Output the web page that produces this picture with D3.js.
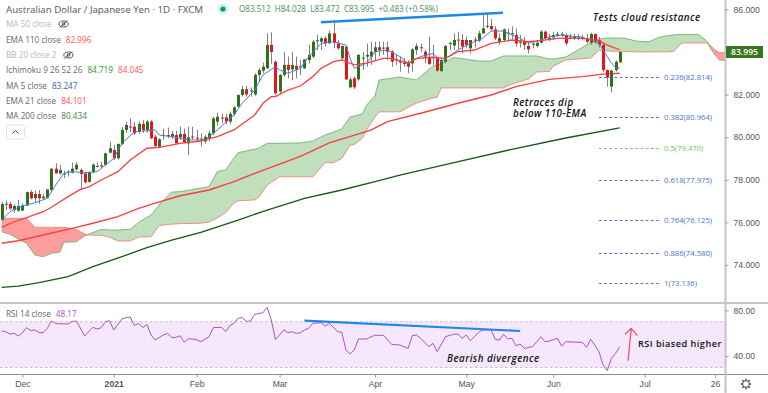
<!DOCTYPE html>
<html>
<head>
<meta charset="utf-8">
<script src="https://d3js.org/d3.v7.min.js"></script>
<style>
    html, body { margin: 0; padding: 0; background: #fff; }
    svg { display: block; font-family: "Open Sans", sans-serif; }
</style>
</head>
<body>
<div id="chart"></div>
<script>

// daily bars: open, high, low, close
const candles = [
    [76.11,76.97,76.08,76.86],[76.86,77.02,76.58,76.88],[76.86,76.97,76.58,76.65],[76.58,76.86,76.46,76.77],[76.55,77.05,76.50,76.77],
    [76.55,76.90,76.55,76.80],[76.80,77.44,76.77,77.42],[77.42,77.52,77.08,77.13],[77.13,77.49,76.90,77.33],[77.33,77.52,76.86,77.13],
    [77.13,77.36,77.05,77.21],[77.15,77.55,77.13,77.55],[77.52,78.54,77.44,78.52],[78.52,78.77,78.30,78.30],[78.30,78.69,78.22,78.46],
    [78.30,78.43,78.07,78.30],[78.34,78.46,78.15,78.38],[78.34,78.80,78.30,78.52],[78.49,78.83,78.43,78.71],[78.46,78.54,77.52,78.27],
    [78.30,78.38,77.83,77.88],[77.90,78.38,77.87,78.36],[78.36,78.77,78.30,78.71],[78.65,78.80,78.58,78.65],[78.68,78.85,78.54,78.63],
    [78.71,79.27,78.68,79.24],[79.27,79.79,79.24,79.48],[79.40,79.63,78.93,79.01],[79.01,79.71,78.96,79.68],[79.68,80.49,79.63,80.34],
    [80.34,80.73,80.20,80.57],[80.50,80.88,80.25,80.49],[80.49,80.70,80.10,80.18],[80.25,80.74,80.15,80.62],[80.62,80.80,80.20,80.34],
    [80.34,80.80,80.20,80.73],[80.73,80.80,79.90,79.95],[80.02,80.10,79.55,79.58],[79.55,79.95,79.50,79.90],[80.05,80.40,79.87,80.10],
    [80.10,80.45,79.95,80.08],[80.02,80.30,79.90,80.15],[80.10,80.30,79.70,79.71],[79.99,80.50,79.87,80.15],[80.15,80.40,79.72,79.74],
    [79.71,80.49,79.16,79.99],[80.03,80.49,79.87,80.00],[79.98,80.34,79.80,79.95],[79.90,80.18,79.55,79.93],[79.80,80.10,79.70,80.02],
    [79.95,80.30,79.80,80.18],[80.18,80.95,80.10,80.88],[80.73,81.15,80.55,80.96],[80.92,81.10,80.65,80.90],[80.93,81.10,80.60,80.73],
    [80.73,81.20,80.60,81.10],[81.08,81.45,81.00,81.40],[81.43,82.00,81.40,81.98],[81.98,82.40,81.90,82.25],[82.25,82.40,81.90,82.01],
    [82.15,82.34,81.90,82.20],[82.00,83.00,81.95,82.92],[82.92,83.25,82.60,83.15],[83.12,83.50,83.00,83.31],[83.23,84.87,83.20,84.33],
    [84.33,84.92,83.45,84.00],[83.54,83.60,81.98,82.06],[82.14,82.96,82.06,82.92],[82.92,84.00,82.84,83.39],[83.39,83.78,82.76,83.15],
    [83.18,84.00,82.68,83.39],[83.34,83.78,82.76,83.18],[83.30,83.62,82.92,83.33],[83.23,83.66,83.20,83.65],[83.62,84.33,83.46,83.86],
    [83.78,84.56,83.70,84.48],[84.50,84.80,84.09,84.55],[84.48,84.72,84.09,84.64],[84.64,84.75,84.25,84.40],[84.40,85.00,84.40,84.87],
    [84.87,85.42,84.17,84.43],[84.40,84.56,84.09,84.17],[83.70,84.30,83.60,84.28],[84.25,84.25,82.68,82.71],[82.34,82.80,82.28,82.71],
    [82.76,82.85,82.25,82.34],[82.71,83.90,82.65,83.86],[83.70,84.00,83.15,83.73],[83.78,84.40,83.30,83.86],[83.78,84.48,83.39,84.01],
    [84.01,84.48,83.62,84.22],[84.22,84.48,83.78,84.09],[84.17,84.48,83.86,84.20],[84.22,84.48,83.62,84.01],[84.01,84.09,83.30,83.54],
    [83.65,83.86,83.39,83.66],[83.57,83.78,83.07,83.50],[83.46,83.70,83.30,83.48],[83.50,83.62,83.00,83.31],[83.46,84.17,83.07,84.12],
    [84.09,84.40,83.86,84.28],[84.20,84.40,84.00,84.22],[84.01,84.09,83.46,83.78],[83.75,84.72,83.39,83.43],[83.73,84.33,83.39,83.75],
    [83.70,83.75,83.07,83.12],[83.10,83.70,83.07,83.62],[83.54,84.33,83.46,84.28],[84.40,84.48,84.09,84.42],[84.30,84.87,84.09,84.56],
    [84.56,84.95,84.09,84.58],[84.56,84.84,83.93,84.25],[84.56,84.72,84.17,84.33],[84.17,84.56,83.93,84.56],[84.58,84.70,84.20,84.53],
    [84.53,85.00,84.45,84.87],[84.87,85.73,84.87,85.11],[85.20,85.78,85.10,85.22],[85.22,85.55,85.00,85.06],[85.06,85.20,84.56,84.64],
    [84.48,84.87,84.33,84.64],[84.56,85.10,84.48,85.06],[84.87,85.10,84.48,84.90],[84.85,85.20,84.60,84.88],[84.80,85.10,84.25,84.40],
    [84.45,84.80,84.20,84.48],[84.48,84.70,84.10,84.33],[84.28,84.48,83.93,84.12],[84.35,84.53,84.17,84.38],[84.28,84.56,84.20,84.43],
    [84.43,85.03,84.40,84.95],[84.95,85.00,84.56,84.64],[84.64,84.85,84.50,84.66],[84.68,84.95,84.55,84.79],[84.82,84.95,84.70,84.85],
    [84.80,84.95,84.70,84.84],[84.80,84.87,84.30,84.40],[84.70,84.85,84.60,84.72],[84.68,84.85,84.55,84.70],[84.68,84.85,84.55,84.68],
    [84.68,84.80,84.55,84.70],[84.64,84.84,84.40,84.48],[84.43,84.90,84.33,84.84],[84.84,84.87,84.37,84.48],[84.56,84.70,84.20,84.33],
    [84.33,84.40,83.07,83.15],[83.15,83.18,82.37,82.80],[82.37,83.18,82.09,83.12],[83.15,83.60,83.07,83.54],[83.512,84.028,83.472,83.995]
];

// moving averages as [bar, price]
const ma5 = [[0,76.11],[2,76.50],[4,76.71],[8,76.92],[11,77.13],[13,77.75],[15,78.30],[17,78.38],[20,78.33],[23,78.38],[25,78.69],[27,79.00],[29,79.71],[32,80.25],[37,80.34],[38,80.10],[41,80.02],[45,79.87],[49,79.87],[52,80.34],[56,81.04],[58,81.59],[61,82.21],[63,82.92],[66,83.31],[67,83.15],[69,83.00],[72,83.23],[74,83.77],[77,84.40],[80,84.48],[83,84.32],[84,83.70],[85,83.23],[88,83.47],[90,84.01],[93,84.09],[96,83.78],[98,83.47],[101,83.78],[104,83.93],[106,83.54],[110,84.09],[113,84.40],[116,84.64],[118,84.98],[121,84.98],[123,84.79],[125,84.64],[127,84.40],[130,84.56],[132,84.71],[135,84.79],[140,84.69],[144,84.40],[146,83.78],[147,83.48],[148,83.27],[149,83.247]];
const ema21 = [[0,75.77],[3,76.03],[6,76.22],[10,76.50],[12,76.71],[16,77.21],[19,77.55],[21,77.67],[24,77.99],[28,78.38],[31,78.93],[35,79.48],[38,79.52],[43,79.71],[48,79.82],[52,80.02],[56,80.34],[61,81.04],[63,81.59],[65,81.90],[66,81.90],[69,82.21],[72,82.40],[75,82.84],[77,83.23],[80,83.54],[82,83.62],[85,83.39],[88,83.47],[92,83.70],[94,83.70],[98,83.47],[100,83.70],[104,83.75],[107,83.70],[110,84.01],[114,84.09],[118,84.40],[123,84.56],[127,84.48],[130,84.53],[134,84.64],[140,84.64],[144,84.53],[146,84.32],[149,84.101]];
const ema110 = [[0,75.02],[4,75.14],[10,75.41],[17,75.72],[22,75.96],[28,76.27],[33,76.66],[37,76.90],[43,77.25],[50,77.52],[56,77.91],[61,78.30],[72,79.10],[79,79.73],[89,80.33],[93,80.73],[101,81.12],[110,81.59],[118,81.98],[124,82.37],[132,82.71],[140,82.84],[145,82.96],[149,82.996]];
const ma200 = [[0,72.95],[4,73.01],[9,73.17],[16,73.45],[22,73.92],[29,74.39],[35,74.81],[41,75.17],[48,75.53],[57,76.11],[64,76.58],[73,77.13],[82,77.52],[90,77.91],[96,78.22],[108,78.76],[123,79.43],[136,79.96],[149,80.434]];

// ichimoku cloud: bar, span A, span B
const cloud = [
    [0,75.56,76.19],[2,75.44,76.19],[4,75.22,76.19],[6,75.02,76.19],[8,74.47,75.77],[10,74.39,75.77],[12,74.55,75.77],[14,74.60,75.77],[15,75.07,75.77],[18,75.09,75.67],
    [20,75.36,75.45],[21,75.45,75.41],[24,75.67,75.39],[26,75.64,75.31],[28,75.64,75.13],[31,75.67,75.13],[33,76.00,75.31],[36,76.35,75.33],[38,76.82,75.85],[40,77.24,75.90],
    [41,77.42,75.92],[43,77.44,75.94],[48,77.61,75.96],[50,77.68,76.02],[52,78.39,76.21],[54,78.46,76.46],[56,79.02,76.91],[57,79.27,77.02],[61,79.44,77.05],[62,79.48,77.19],
    [64,79.71,77.75],[67,79.71,78.14],[72,79.73,78.14],[75,79.82,78.14],[78,80.10,78.80],[80,80.24,78.80],[82,80.38,79.01],[84,80.95,79.63],[85,80.99,79.65],[87,81.09,79.96],
    [88,81.51,80.36],[90,81.93,80.95],[91,82.68,81.19],[96,82.82,81.19],[100,82.68,81.60],[104,83.34,81.84],[105,83.39,81.88],[106,83.43,82.31],[109,83.74,82.31],[115,83.57,82.31],
    [118,83.57,82.31],[121,83.81,82.31],[123,83.81,82.49],[127,83.81,82.73],[129,83.81,83.06],[132,83.67,83.08],[133,83.67,83.34],[136,83.76,83.62],[139,84.09,83.67],[142,84.44,83.71],
    [144,84.61,84.09],[146,84.65,84.04],[150,84.65,84.02],[153,84.51,84.00],[156,84.47,84.00],[158,84.65,84.00],[160,84.75,84.00],[162,84.80,84.02],[164,84.82,84.42],[168,84.82,84.42],
    [170,84.51,84.42],[171,84.14,84.28],[172,83.85,84.09],[173,83.62,83.97],[175,83.59,83.96]
];

// RSI as [bar, value]
const rsi = [[0,61.9],[1,61.3],[2,59.2],[3,59.8],[4,57.5],[5,60.4],[6,64.8],[7,62.2],[8,62.8],[9,60.4],[10,60.4],[11,64.2],[12,70.6],[13,68.3],[16,68.0],[17,70.3],[18,70.6],[20,57.5],[22,65.1],[23,63.6],[24,64.8],[25,70.0],[26,70.9],[27,62.8],[29,72.4],[30,73.6],[31,74.1],[32,66.6],[33,68.6],[34,64.8],[35,67.7],[36,58.4],[37,54.0],[39,58.4],[40,59.8],[41,56.3],[42,56.3],[43,57.8],[44,52.0],[45,55.2],[47,54.3],[48,52.5],[50,56.9],[51,64.8],[53,65.1],[54,61.3],[55,66.6],[56,68.6],[57,73.0],[58,73.6],[59,70.3],[60,70.6],[61,76.5],[63,77.9],[64,82.6],[65,71.5],[66,54.3],[68,62.8],[69,60.4],[70,61.3],[71,59.8],[72,60.4],[73,62.8],[74,64.2],[75,68.6],[77,69.2],[78,66.2],[79,68.6],[81,61.3],[82,60.7],[83,45.2],[84,41.7],[85,45.2],[86,54.9],[88,54.9],[90,58.4],[91,57.8],[92,58.4],[94,50.2],[96,49.6],[98,46.7],[99,57.8],[100,58.4],[101,55.5],[103,48.2],[104,51.1],[105,43.8],[107,56.9],[109,59.0],[110,59.2],[111,55.5],[112,58.4],[113,53.4],[115,60.7],[116,62.8],[118,62.8],[119,54.6],[120,54.0],[121,59.0],[122,54.9],[123,55.5],[124,49.0],[125,50.5],[126,46.7],[128,48.2],[130,56.9],[131,52.5],[132,53.1],[134,55.5],[135,48.7],[136,52.5],[140,51.9],[141,47.6],[142,54.6],[143,49.6],[144,43.8],[145,32.1],[146,27.2],[147,37.9],[148,42.3],[149,48.17]];

const fibRatios = ["0.236", "0.382", "0.5", "0.618", "0.764", "0.886", "1"];
const fibPrices = [82.814, 80.964, 79.470, 77.975, 76.125, 74.580, 73.136];

const timeBars = [5, 27, 47, 67, 90, 112, 133, 155, 172];
const timeLabels = ["Dec", "2021", "Feb", "Mar", "Apr", "May", "Jun", "Jul", "26"];
const priceTicks = [74, 76, 78, 80, 82, 86];
const rsiTicks = [40, 80];

// hand drawn trend lines, [bar, value]
const priceTrend = [[77, 85.39], [120.85, 85.84]];
const rsiTrend = [[73, 70.9], [125, 61.9]];

const width = 768, height = 393;
const axisX = 725.5, paneBottom = 303, rsiBottom = 374.5;

const green = "#2f6f1f", red = "#e8131c", fibBlue = "#4a72c4", fibGreen = "#6cc56c";

const xScale = d3.scaleLinear().domain([0, 149]).range([1.7, 619.7]);
const yScale = d3.scaleLinear().domain([74, 86]).range([265, 9.3]);
const rsiScale = d3.scaleLinear().domain([40, 80]).range([356, 310.3]);

const svg = d3.select("#chart").append("svg")
    .attr("width", width).attr("height", height);

svg.append("clipPath").attr("id", "plotClip")
    .append("rect").attr("width", axisX).attr("height", paneBottom);

const plot = svg.append("g").attr("clip-path", "url(#plotClip)");

// cloud
const cloudGreen = d3.area()
    .x(d => xScale(d[0]))
    .y0(d => yScale(d[2]))
    .y1(d => yScale(Math.max(d[1], d[2])));

const cloudRed = d3.area()
    .x(d => xScale(d[0]))
    .y0(d => yScale(d[2]))
    .y1(d => yScale(Math.min(d[1], d[2])));

plot.append("path").attr("d", cloudGreen(cloud)).attr("fill", "#c0dfbd");
plot.append("path").attr("d", cloudRed(cloud)).attr("fill", "#ff9c9c");

const cloudLine = d3.line().x(d => xScale(d[0]));
plot.append("path").datum(cloud)
    .attr("d", cloudLine.y(d => yScale(d[1])))
    .attr("fill", "none").attr("stroke", "#7fb77c").attr("stroke-width", 1);
plot.append("path").datum(cloud)
    .attr("d", cloudLine.y(d => yScale(d[2])))
    .attr("fill", "none").attr("stroke", "#ee8f7e").attr("stroke-width", 1);

const priceLine = d3.line().x(d => xScale(d[0])).y(d => yScale(d[1]));

plot.append("path").attr("d", priceLine(ma200))
    .attr("fill", "none").attr("stroke", "#14591a").attr("stroke-width", 1.3);
plot.append("path").attr("d", priceLine(ema110))
    .attr("fill", "none").attr("stroke", "#f6403f").attr("stroke-width", 1.4);

// candles
const bars = plot.append("g").selectAll("g")
    .data(candles)
    .enter()
    .append("g");

bars.append("line")
    .attr("x1", (d, i) => Math.round(xScale(i)) + .5)
    .attr("x2", (d, i) => Math.round(xScale(i)) + .5)
    .attr("y1", d => yScale(d[1]))
    .attr("y2", d => yScale(d[2]))
    .attr("stroke", "#808080");

bars.append("rect")
    .attr("x", (d, i) => Math.round(xScale(i)) - 1)
    .attr("width", 3)
    .attr("y", d => yScale(Math.max(d[0], d[3])))
    .attr("height", d => Math.max(1, Math.abs(yScale(d[0]) - yScale(d[3]))))
    .attr("fill", d => d[3] >= d[0] ? green : red);

plot.append("path").attr("d", priceLine(ma5))
    .attr("fill", "none").attr("stroke", "#4a7fc9").attr("stroke-width", 1);
plot.append("path").attr("d", priceLine(ema21))
    .attr("fill", "none").attr("stroke", "#f6403f").attr("stroke-width", 1.3);

// fibonacci levels
const fibs = svg.append("g").selectAll("g")
    .data(fibPrices)
    .enter()
    .append("g")
    .attr("fill", (d, i) => i === 2 ? fibGreen : fibBlue);

fibs.append("line")
    .attr("x1", 599).attr("x2", 659)
    .attr("y1", d => Math.round(yScale(d)) + .5)
    .attr("y2", d => Math.round(yScale(d)) + .5)
    .attr("stroke", (d, i) => i === 2 ? fibGreen : fibBlue)
    .attr("stroke-dasharray", "2.6 2.6");

fibs.append("text")
    .attr("x", 664)
    .attr("y", d => yScale(d) + 3)
    .style("font-size", "7.7px")
    .text((d, i) => `${fibRatios[i]}(${d.toFixed(3)})`);

// annotations on the price pane
svg.append("path").attr("d", priceLine(priceTrend))
    .attr("fill", "none").attr("stroke", "#1e88e5").attr("stroke-width", 2.4);

function note(text, x, y, italic) {
    svg.append("text")
        .attr("x", x).attr("y", y)
        .attr("fill", "#111")
        .style("font-size", italic ? "9.8px" : "9.2px")
        .style("font-weight", 600)
        .style("font-style", italic ? "italic" : "normal")
        .style("letter-spacing", ".45px")
        .text(text);
}

note("Tests cloud resistance", 593, 20.8, true);
note("Retraces dip", 513, 106, true);
note("below 110-EMA", 513, 116.8, true);

// RSI pane
svg.append("rect")
    .attr("x", 0).attr("width", axisX)
    .attr("y", rsiScale(70)).attr("height", rsiScale(30) - rsiScale(70))
    .attr("fill", "#f5e8fd");

[70, 30].forEach(level => {
    svg.append("line")
        .attr("x1", 0).attr("x2", axisX)
        .attr("y1", rsiScale(level)).attr("y2", rsiScale(level))
        .attr("stroke", "#c4b8c9")
        .attr("stroke-dasharray", "2.5 2.5");
});

const rsiLine = d3.line().x(d => xScale(d[0])).y(d => rsiScale(d[1]));

svg.append("path").attr("d", rsiLine(rsi))
    .attr("fill", "none").attr("stroke", "#ac51c4").attr("stroke-width", 1);
svg.append("path").attr("d", rsiLine(rsiTrend))
    .attr("fill", "none").attr("stroke", "#1e88e5").attr("stroke-width", 2.2);

note("Bearish divergence", 447, 361.5, true);
note("RSI biased higher", 638, 346.5, false);

// red arrow
svg.append("path")
    .attr("d", "M628 360.7L631.3 328.3M625 334.3L631.3 328.3L637.3 335.7")
    .attr("fill", "none").attr("stroke", "#f2495a").attr("stroke-width", 1.2);

// frame lines
svg.append("line").attr("x1", 0).attr("x2", width).attr("y1", paneBottom).attr("y2", paneBottom)
    .attr("stroke", "#8c8c8c");
svg.append("line").attr("x1", 0).attr("x2", width).attr("y1", rsiBottom).attr("y2", rsiBottom)
    .attr("stroke", "#8c8c8c");
svg.append("line").attr("x1", axisX).attr("x2", axisX).attr("y1", 0).attr("y2", height)
    .attr("stroke", "#c4c4c4").attr("stroke-width", 2);

// axes
function styleAxis(g) {
    g.select(".domain").remove();
    g.selectAll("line").attr("stroke", "#9a9a9a");
    g.selectAll("text").attr("fill", "#555").style("font-size", "8.6px");
}

svg.append("g")
    .attr("transform", `translate(${axisX}, 0)`)
    .call(d3.axisRight(yScale).tickValues(priceTicks).tickSize(3).tickPadding(5).tickFormat(d3.format(".3f")))
    .call(styleAxis);

svg.append("g")
    .attr("transform", `translate(${axisX}, 0)`)
    .call(d3.axisRight(rsiScale).tickValues(rsiTicks).tickSize(3).tickPadding(5).tickFormat(d3.format(".2f")))
    .call(styleAxis);

svg.append("g")
    .attr("transform", `translate(0, ${rsiBottom})`)
    .call(d3.axisBottom(xScale).tickValues(timeBars).tickSize(3).tickPadding(3)
        .tickFormat((d, i) => timeLabels[i]))
    .call(styleAxis)
    .selectAll("text")
    .style("font-weight", (d, i) => i === 1 ? 600 : 400);

// last price tag
svg.append("rect")
    .attr("x", 726).attr("y", yScale(83.995) - 6)
    .attr("width", 37).attr("height", 12)
    .attr("fill", "#37761f");
svg.append("text")
    .attr("x", 744.5).attr("y", yScale(83.995) + 3.2)
    .attr("text-anchor", "middle")
    .attr("fill", "#fff")
    .style("font-size", "8.6px")
    .style("font-weight", 600)
    .text("83.995");

// legend
svg.append("text")
    .attr("x", 6).attr("y", 12.5)
    .attr("fill", "#555")
    .style("font-size", "9.7px")
    .text("Australian Dollar / Japanese Yen · 1D · FXCM");

svg.append("circle").attr("cx", 223).attr("cy", 9).attr("r", 5.5).attr("fill", "#d6f0ec");
svg.append("circle").attr("cx", 223).attr("cy", 9).attr("r", 2.6).attr("fill", "#089981");

svg.append("text")
    .attr("x", 239).attr("y", 12.2)
    .attr("fill", "#4b8a58")
    .attr("xml:space", "preserve")
    .style("font-size", "8.1px")
    .text("O83.512  H84.028  L83.472  C83.995  +0.483 (+0.58%)");

const legendRows = [
    { y: 27, label: "MA 50 close", off: true, values: [] },
    { y: 42.5, label: "EMA 110 close", values: [["82.996", "#ff5252"]] },
    { y: 58, label: "BB 20 close 2", off: true, values: [] },
    { y: 73, label: "Ichimoku 9 26 52 26", values: [["84.719", "#2b962b"], ["84.045", "#ff5252"]] },
    { y: 89, label: "MA 5 close", values: [["83.247", "#3a5fb0"]] },
    { y: 104, label: "EMA 21 close", values: [["84.101", "#ff5252"]] },
    { y: 119, label: "MA 200 close", values: [["80.434", "#3f7f3f"]] },
    { y: 317, label: "RSI 14 close", values: [["48.17", "#b14fc5"]] }
];

legendRows.forEach(row => {
    const t = svg.append("text")
        .attr("x", 6).attr("y", row.y)
        .style("font-size", "8.2px")
        .attr("fill", row.off ? "#b8b8b8" : "#666");
    t.append("tspan").text(row.label);
    row.values.forEach(v => {
        t.append("tspan").attr("dx", 5).attr("fill", v[1]).text(v[0]);
    });
    if (row.off) {
        const end = t.node().getComputedTextLength() + 18;
        const eye = svg.append("g").attr("transform", `translate(${end}, ${row.y - 3})`)
            .attr("fill", "none").attr("stroke", "#444").attr("stroke-width", .9);
        eye.append("ellipse").attr("rx", 4.6).attr("ry", 3);
        eye.append("circle").attr("r", 1.4);
        eye.append("line").attr("x1", -4).attr("y1", 3.5).attr("x2", 4).attr("y2", -3.5);
    }
});

// collapse button
svg.append("rect")
    .attr("x", 6.5).attr("y", 125).attr("width", 18).attr("height", 14).attr("rx", 2.5)
    .attr("fill", "#fff").attr("stroke", "#e4e4e4");
svg.append("path").attr("d", "M12.5 133.5L15.5 130.5L18.5 133.5")
    .attr("fill", "none").attr("stroke", "#444");

// settings gear
const gear = svg.append("g").attr("transform", "translate(746, 384)")
    .attr("fill", "none").attr("stroke", "#444");
gear.append("circle").attr("r", 3.4);
d3.range(0, 8).forEach(k => {
    gear.append("line")
        .attr("y1", -3.4).attr("y2", -5.2)
        .attr("stroke-width", 1.4)
        .attr("transform", `rotate(${k * 45})`);
});

</script>
</body>
</html>
